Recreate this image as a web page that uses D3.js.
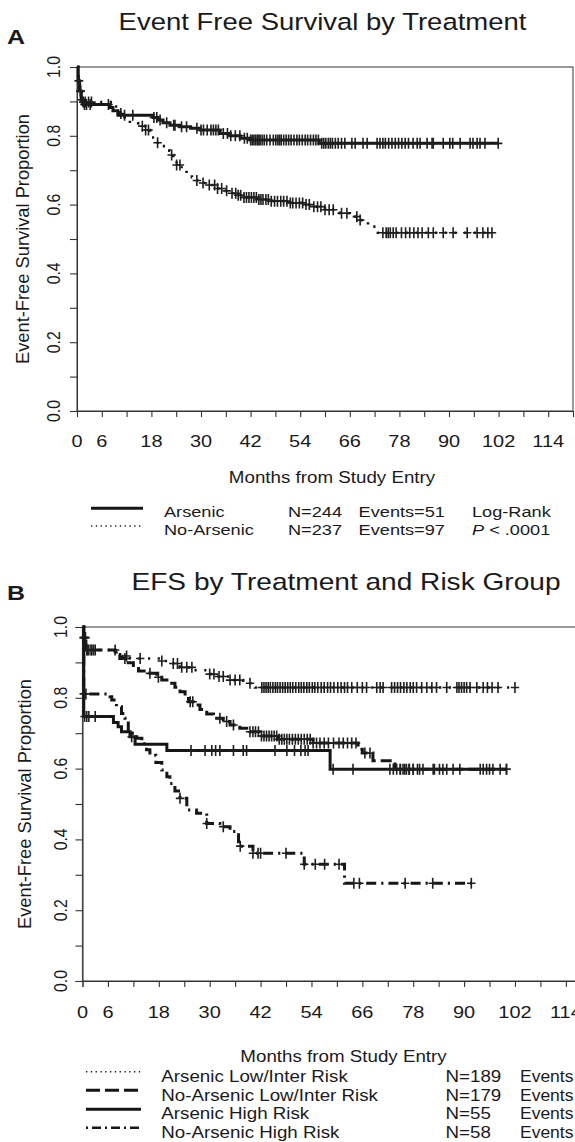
<!DOCTYPE html>
<html><head><meta charset="utf-8">
<script src="https://cdn.jsdelivr.net/npm/d3@7"></script>
<style>body{margin:0;background:#fff}svg{display:block}text{font-family:"Liberation Sans",Arial,sans-serif;fill:#1a1a1a}</style>
</head><body>
<script>
// ---------- Panel A data ----------
const titleA = "Event Free Survival by Treatment";
const armA_t = [0,0.3,0.6,1.0,1.5,8.0,8.7,9.9,18.4,19.5,20.8,22.5,24.9,27.5,29.8,34.6,37.0,39.5,41.9,58.6];
const armA_s = [1.0,0.96,0.93,0.905,0.891,0.882,0.873,0.860,0.853,0.846,0.838,0.831,0.826,0.822,0.817,0.807,0.800,0.793,0.788,0.778];
const armA_c = [0.4,0.8,1.2,1.8,2.3,3.2,7.6,11.5,13.5,18.6,19.3,20.1,21.7,23.4,23.7,25.3,26.5,29.0,30.0,30.6,31.5,32.4,33.0,33.6,34.2,35.4,36.4,37.2,38.3,39.4,40.5,41.2,42.0,42.4,42.8,43.2,43.6,44.0,44.3,44.8,45.3,45.9,46.7,47.5,48.1,48.6,49.0,49.4,50.0,50.6,51.2,51.8,52.5,53.2,53.8,54.5,55.2,55.8,56.5,57.2,57.8,58.4,59.2,59.7,60.2,60.8,61.3,61.8,62.5,63.2,64.0,64.8,66.5,67.3,69.2,70.2,72.6,73.3,74.0,74.6,75.4,76.2,77.0,77.8,78.6,79.4,80.2,81.3,82.3,83.0,84.7,85.9,86.2,88.6,90.2,90.9,92.7,95.1,95.8,96.8,97.5,98.7,101.9];
const noA_t = [0,0.3,0.7,1.2,8.5,10.5,11.5,12.8,14.8,16.5,17.7,19,20,21.3,22.5,23.3,24.1,25.3,26.5,27.8,29,30.2,31.4,33.8,35.5,37,38.7,40.2,43.5,47,51.5,55,57,60,63.6,66,68.5,70.4,72.8];
const noA_s = [1.0,0.96,0.93,0.898,0.885,0.865,0.854,0.836,0.828,0.817,0.795,0.78,0.770,0.757,0.744,0.730,0.715,0.703,0.691,0.680,0.670,0.663,0.657,0.647,0.640,0.633,0.627,0.621,0.615,0.610,0.605,0.600,0.594,0.585,0.575,0.565,0.555,0.536,0.518];
const noA_c = [0.5,0.9,1.5,2.0,2.8,3.5,10.6,15.8,16.6,17.3,19.5,22.9,24.1,24.9,29.0,30.5,32.0,33.3,34.0,35.0,36.2,37.5,38.4,39.0,39.6,40.4,41.0,41.6,42.2,42.8,43.4,44.0,44.5,45.0,45.7,46.3,47.0,47.8,48.5,49.3,50.0,50.8,51.6,52.2,53.0,53.8,54.6,55.4,56.2,57.3,58.2,59.0,60.0,61.0,62.0,64.0,65.3,67.7,68.5,74.0,74.8,75.3,75.8,76.5,77.2,78.5,79.5,80.5,81.5,82.5,83.5,85.0,86.2,88.6,91.0,94.4,96.8,98.2,99.4,100.4];
const legendA_names = ["Arsenic","No-Arsenic"];
const legendA_N = ["N=244","N=237"];
const legendA_events = ["Events=51","Events=97"];

// ---------- Panel B data ----------
const titleB = "EFS by Treatment and Risk Group";
const aLI_t = [0,0.3,0.8,8.0,9.2,11.2,18.3,21.4,23,26.1,29.3,31.6,34.8,37.9,40.7];
const aLI_s = [1,0.97,0.935,0.925,0.918,0.911,0.904,0.897,0.886,0.878,0.867,0.860,0.850,0.841,0.829];
const aLI_c = [0.3,0.6,1.0,1.5,2.2,3.0,7.7,10.4,13.6,18.7,21.4,22.4,23.4,24.6,25.8,30.0,31.0,32.2,33.2,34.8,36.0,37.1,39.5,42.3,42.8,43.3,43.8,44.3,44.9,45.5,46.0,46.6,47.2,47.8,48.4,49.0,49.6,50.3,51.0,51.6,52.2,52.9,53.5,54.2,54.8,55.5,56.3,57.0,57.8,58.5,59.3,60.2,61.0,61.8,62.5,63.5,64.8,66.0,67.0,69.4,70.2,70.9,72.9,73.6,74.3,75.0,75.8,76.5,77.3,78.0,78.8,80.0,81.2,82.4,83.5,85.9,88.3,88.8,89.4,90.0,90.6,91.4,93.0,94.5,95.5,96.6,98.0,102.0];
const nLI_t = [0,0.3,0.8,7.7,8.8,10.8,12,13.2,15.9,17.5,18.7,20.6,21.8,23,24.2,25,26.1,27.7,29.3,30.9,33.2,34.8,37.1,39.5,41.9,46,54.4,65,66,68.5,73.7];
const nLI_s = [1,0.97,0.935,0.922,0.911,0.899,0.883,0.876,0.869,0.858,0.850,0.841,0.830,0.817,0.803,0.789,0.780,0.767,0.754,0.742,0.733,0.723,0.714,0.704,0.692,0.683,0.672,0.655,0.644,0.622,0.598];
const nLI_c = [0.3,0.7,1.2,2.0,2.6,10.0,15.9,17.9,25.4,26.0,32.4,34.0,35.6,39.5,40.2,40.8,41.5,42.2,42.8,43.4,44.0,44.6,45.2,45.8,46.4,47.0,47.6,48.2,48.8,49.5,50.2,50.9,51.6,52.3,53.0,53.7,54.4,55.2,56.0,57.0,58.0,59.2,60.5,61.5,62.5,63.5,64.5,66.6,67.8,75.0,76.0,77.0,78.0,79.5,83.0,85.0,89.0,94.5,96.0,100.0];
const aHR_t = [0,0.3,7.3,8.4,9.2,11.2,12.4,19.9,58.4];
const aHR_s = [1,0.747,0.730,0.718,0.704,0.690,0.669,0.651,0.598];
const aHR_c = [0.5,1.0,1.5,3.0,11.6,25.6,28.9,30.5,31.4,32.4,35.6,37.9,38.7,45.4,48.2,50.0,51.5,52.5,53.2,59.1,63.8,72.5,73.3,74.1,74.9,75.6,76.4,77.1,78.0,79.0,80.3,82.7,84.2,85.9,87.4,93.8,95.3,96.8,98.5,100.0];
const nHR_t = [0,0.3,6.5,6.9,8.0,9.2,10,10.8,12.8,14,15.1,15.9,17.3,18.7,19.9,20.6,21.8,23,24.6,26.9,29.3,32.4,34.8,36.8,40.2,52.3,61.8];
const nHR_s = [1,0.811,0.803,0.794,0.775,0.756,0.742,0.700,0.686,0.670,0.653,0.638,0.617,0.596,0.577,0.558,0.537,0.516,0.483,0.474,0.445,0.436,0.422,0.381,0.361,0.330,0.276];
const nHR_c = [0.3,0.8,23.0,29.3,33.2,37.2,40.2,41.4,42.0,48.0,52.3,54.9,57.1,60.5,64.0,65.3,76.1,82.6,91.7];
const legendB_names = ["Arsenic Low/Inter Risk","No-Arsenic Low/Inter Risk","Arsenic High Risk","No-Arsenic High Risk"];
const legendB_N = ["N=189","N=179","N=55","N=58"];

// ---------- axis ticks ----------
const xTicks = d3.range(0, 121, 6);
const xTickLabels = [0,6,18,30,42,54,66,78,90,102,114];
const yTicks = d3.range(0, 11).map(d => d / 10);
const yTickLabels = [0,0.2,0.4,0.6,0.8,1.0];
const xTitle = "Months from Study Entry";
const yTitle = "Event-Free Survival Proportion";

// ---------- drawing ----------
const W = 575, H = 1142, SX = 1.18;
const svg = d3.select("body").append("svg").attr("width", W).attr("height", H);
const INK = "#161616";

function txt(x, y, s, size, opt = {}) {
  const t = svg.append("text")
    .attr("transform", `translate(${x},${y}) scale(${opt.sx || SX},1)` + (opt.rot ? " rotate(-90)" : ""))
    .attr("font-size", size)
    .attr("text-anchor", opt.anchor || "start");
  if (opt.bold) t.attr("font-weight", "bold");
  t.text(s);
  return t;
}

const DASH = { solid: null, dotted: "2.2,7.5", dashed: "11,5", dotdash: "2.2,5,10,5" };

function panel(cfg) {
  const x = d3.scaleLinear().domain([0, 120]).range(cfg.xr);
  const y = d3.scaleLinear().domain([0, 1]).range(cfg.yr);
  const g = svg.append("g");
  g.append("rect").attr("x", cfg.xr[0]).attr("y", cfg.yr[1])
    .attr("width", cfg.xr[1] - cfg.xr[0]).attr("height", cfg.yr[0] - cfg.yr[1])
    .attr("fill", "none").attr("stroke", "#555").attr("stroke-width", 1.2);
  const xa = g.append("g").attr("transform", `translate(0,${cfg.yr[0]})`)
    .call(d3.axisBottom(x).tickValues(xTicks).tickSize(6).tickFormat(""));
  xa.select(".domain").attr("stroke", "#333");
  xa.selectAll(".tick line").attr("stroke", "#333").attr("stroke-width", 1.1);
  xTickLabels.forEach(v => txt(x(v), cfg.xLabY, String(v), 16.9, { anchor: "middle" }));
  const ya = g.append("g").attr("transform", `translate(${cfg.xr[0]},0)`)
    .call(d3.axisLeft(y).tickValues(yTicks).tickSize(7).tickFormat(""));
  ya.select(".domain").attr("stroke", "#333");
  ya.selectAll(".tick line").attr("stroke", "#333").attr("stroke-width", 1.1);
  yTickLabels.forEach(v => txt(cfg.yLabX, y(v), d3.format(".1f")(v), 15.8, { anchor: "middle", rot: true }));
  const line = d3.line().x(d => x(d[0])).y(d => y(d[1])).curve(d3.curveStepAfter);
  cfg.curves.forEach(c => {
    const end = d3.max(c.c);
    const pts = c.t.map((t, i) => [t, c.s[i]]);
    pts.push([end, c.s[c.s.length - 1]]);
    const p = g.append("path").attr("d", line(pts)).attr("fill", "none")
      .attr("stroke", INK).attr("stroke-width", c.w || 2.6);
    if (DASH[c.style]) p.attr("stroke-dasharray", DASH[c.style]);
    const survAt = tt => { let v = c.s[0]; for (let i = 0; i < c.t.length; i++) { if (c.t[i] <= tt) v = c.s[i]; } return v; };
    g.append("g").selectAll("path").data(c.c).join("path")
      .attr("d", d => { const px = x(d), py = y(survAt(d)); return `M${px},${py - 5.5}V${py + 5.5}M${px - 4.2},${py}H${px + 4.2}`; })
      .attr("stroke", "#1e1e1e").attr("stroke-width", 1.6).attr("fill", "none");
  });
  return { x, y };
}

// Panel A
txt(7, 44, "A", 20, { bold: true, sx: 1.25 });
txt(322.5, 30, titleA, 23.3, { anchor: "middle" });
panel({
  xr: [77, 573], yr: [411, 67], xLabY: 447, yLabX: 60,
  curves: [
    { t: noA_t, s: noA_s, c: noA_c, style: "dotted", w: 2.6 },
    { t: armA_t, s: armA_s, c: armA_c, style: "solid", w: 3 }
  ]
});
txt(28.5, 239, yTitle, 18.3, { anchor: "middle", rot: true, sx: 1.05 });
txt(332, 483, xTitle, 15.9, { anchor: "middle" });
const legA = [{ y: 508.3, style: "solid", ty: 517.3 }, { y: 526, style: "dotted", ty: 535 }];
legA.forEach((l, i) => {
  const p = svg.append("path").attr("d", `M91,${l.y}H143`).attr("stroke", INK).attr("stroke-width", l.style === "solid" ? 3 : 1.6);
  if (l.style === "dotted") p.attr("stroke-dasharray", "1.3,3.5");
  txt(164, l.ty, legendA_names[i], 15.4);
  txt(288, l.ty, legendA_N[i], 15.4);
  txt(358.6, l.ty, legendA_events[i], 15.4);
});
txt(472, 517.3, "Log-Rank", 15.4);
const pt = txt(472, 535, "", 15.4);
pt.append("tspan").attr("font-style", "italic").text("P");
pt.append("tspan").text(" < .0001");

// Panel B
txt(7, 600, "B", 20, { bold: true, sx: 1.25 });
txt(346, 590, titleB, 23.8, { anchor: "middle" });
panel({
  xr: [82.5, 82.5 + 120 * 4.24], yr: [981, 627], xLabY: 1018.3, yLabX: 67,
  curves: [
    { t: aLI_t, s: aLI_s, c: aLI_c, style: "dotted", w: 2.6 },
    { t: nLI_t, s: nLI_s, c: nLI_c, style: "dashed", w: 3 },
    { t: aHR_t, s: aHR_s, c: aHR_c, style: "solid", w: 3 },
    { t: nHR_t, s: nHR_s, c: nHR_c, style: "dotdash", w: 3 }
  ]
});
txt(31, 804, yTitle, 18.3, { anchor: "middle", rot: true, sx: 1.05 });
txt(343.5, 1062, xTitle, 15.9, { anchor: "middle" });
const legB = [
  { y: 1071.7, ty: 1081.7, dash: "1.3,3.5", w: 1.6 },
  { y: 1090.3, ty: 1100.7, dash: "14,5", w: 3 },
  { y: 1109.3, ty: 1119.3, dash: null, w: 3 },
  { y: 1127.7, ty: 1138.3, dash: "2,4,9,4", w: 2.6 }
];
legB.forEach((l, i) => {
  const p = svg.append("path").attr("d", `M86,${l.y}H141`).attr("stroke", INK).attr("stroke-width", l.w);
  if (l.dash) p.attr("stroke-dasharray", l.dash);
  txt(161.3, l.ty, legendB_names[i], 15.9);
  txt(445.5, l.ty, legendB_N[i], 15.9);
  txt(520, l.ty, "Events", 15.9, { sx: 1.1 });
});
</script>
</body></html>
